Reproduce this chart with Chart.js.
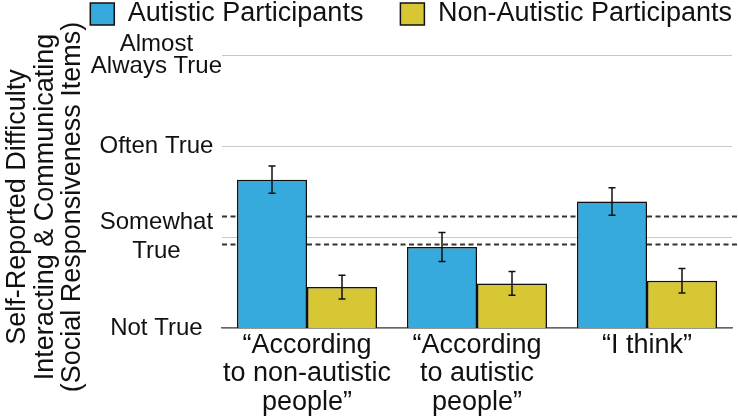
<!DOCTYPE html>
<html>
<head>
<meta charset="utf-8">
<title>Self-Reported Difficulty</title>
<script src="https://cdn.jsdelivr.net/npm/chart.js@4.4.1/dist/chart.umd.min.js"></script>
<style>
    html, body { margin: 0; padding: 0; background: #fff; }
    #wrap { width: 738px; height: 416px; }
</style>
</head>
<body>
<div id="wrap"><canvas id="srsChart" width="738" height="416"></canvas></div>
<script>
// ==========================
// Data
// ==========================
const categories = [
    ["\u201CAccording", "to non-autistic", "people\u201D"],
    ["\u201CAccording", "to autistic", "people\u201D"],
    "\u201CI think\u201D"
];
const seriesNames = ["Autistic Participants", "Non-Autistic Participants"];
const autisticMeans = [2.63, 1.89, 2.39];
const autisticErr = [0.15, 0.16, 0.15];
const nonAutisticMeans = [1.45, 1.49, 1.52];
const nonAutisticErr = [0.13, 0.13, 0.135];
const cutoffLines = [2.23, 1.92];
const yTickValues = [1, 2, 3, 4];
const yTickLabels = ["Not True", ["Somewhat", "True"], "Often True", ["Almost", "Always True"]];
const yTitleLines = ["Self-Reported Difficulty", "Interacting & Communicating", "(Social Responsiveness Items)"];

const FONT = '"Liberation Sans", Arial, Helvetica, sans-serif';
const BLUE = "#36a9dd";
const YELLOW = "#d8c734";
const errors = [autisticErr, nonAutisticErr];

// legend spacing: wide gap between the two entries, so the legend
// box runs a little past the right edge and a blank right axis
// takes that room back from the plot
const LEGEND_PAD = 37;
const RIGHT_PAD = -31;

// ==========================
// Helper plugins
// ==========================

// legend gets a fixed height so the plot starts under it
const legendSpace = {
    id: "legendSpace",
    beforeLayout(chart) {
        const lg = chart.legend;
        if (lg && !lg._patched) {
            const fit = lg.fit;
            lg.fit = function () {
                fit.call(this);
                this.height = 54.5 + LEGEND_PAD;
            };
            lg._patched = true;
        }
    }
};

// dashed cut-off lines behind the bars + soft bar shadow
const cutoffsAndShadow = {
    id: "cutoffsAndShadow",
    beforeDatasetsDraw(chart) {
        const { ctx, chartArea, scales } = chart;
        ctx.save();
        ctx.strokeStyle = "#333";
        ctx.lineWidth = 2;
        ctx.setLineDash([5, 3.5]);
        cutoffLines.forEach(v => {
            const y = Math.round(scales.y.getPixelForValue(v)) + 0.5;
            ctx.beginPath();
            ctx.moveTo(chartArea.left, y);
            ctx.lineTo(chart.width, y);
            ctx.stroke();
        });
        ctx.restore();

        ctx.save();
        ctx.shadowColor = "rgba(0,0,0,0.35)";
        ctx.shadowBlur = 2;
        ctx.shadowOffsetX = 1.5;
        ctx.shadowOffsetY = 1;
    },
    afterDatasetsDraw(chart) {
        const { ctx, scales } = chart;
        ctx.restore();

        // error bars
        ctx.save();
        ctx.strokeStyle = "#111";
        ctx.lineWidth = 1.5;
        chart.data.datasets.forEach((ds, i) => {
            const meta = chart.getDatasetMeta(i);
            meta.data.forEach((bar, j) => {
                const top = scales.y.getPixelForValue(ds.data[j] + errors[i][j]);
                const bot = scales.y.getPixelForValue(ds.data[j] - errors[i][j]);
                const x = bar.x;
                ctx.beginPath();
                ctx.moveTo(x, top); ctx.lineTo(x, bot);
                ctx.moveTo(x - 3.5, top); ctx.lineTo(x + 3.5, top);
                ctx.moveTo(x - 3.5, bot); ctx.lineTo(x + 3.5, bot);
                ctx.stroke();
            });
        });
        ctx.restore();
    }
};

// three-line rotated y title, centred on the canvas height
const yTitle = {
    id: "yTitle",
    afterDraw(chart) {
        const ctx = chart.ctx;
        ctx.save();
        ctx.font = "27px " + FONT;
        ctx.fillStyle = "#111";
        ctx.textAlign = "center";
        ctx.textBaseline = "alphabetic";
        yTitleLines.forEach((line, i) => {
            ctx.save();
            ctx.translate(25 + i * 27.5, 207);
            ctx.rotate(-Math.PI / 2);
            ctx.fillText(line, 0, 0);
            ctx.restore();
        });
        ctx.restore();
    }
};

// ==========================
// Chart
// ==========================
const ctx = document.getElementById("srsChart").getContext("2d");

new Chart(ctx, {
    type: "bar",
    data: {
        labels: categories,
        datasets: [
            {
                label: seriesNames[0],
                data: autisticMeans,
                backgroundColor: BLUE,
                borderColor: "#111",
                borderWidth: 1.5,
                borderSkipped: false
            },
            {
                label: seriesNames[1],
                data: nonAutisticMeans,
                backgroundColor: YELLOW,
                borderColor: "#111",
                borderWidth: 1.5,
                borderSkipped: false
            }
        ]
    },
    options: {
        responsive: false,
        animation: false,
        devicePixelRatio: 1,
        categoryPercentage: 0.8235,
        barPercentage: 1,
        layout: { padding: { top: -LEGEND_PAD + 0.5, left: 0, right: RIGHT_PAD, bottom: 0 } },
        plugins: {
            legend: {
                position: "top",
                align: "end",
                labels: {
                    color: "#111",
                    font: { family: FONT, size: 27 },
                    boxWidth: 24,
                    boxHeight: 22,
                    padding: LEGEND_PAD
                }
            },
            tooltip: { enabled: false }
        },
        scales: {
            x: {
                grid: { display: false, drawTicks: false },
                border: { display: true, color: "#666", width: 1.5 },
                ticks: {
                    color: "#111",
                    padding: 3,
                    maxRotation: 0,
                    autoSkip: false,
                    font: { family: FONT, size: 27, lineHeight: 1.06 }
                },
                afterFit(scale) { scale.height = 88; }
            },
            y: {
                min: 1,
                max: 4,
                grid: { color: "#c8c8c8", lineWidth: 1, drawTicks: false },
                border: { display: false },
                ticks: {
                    stepSize: 1,
                    padding: 0,
                    crossAlign: "center",
                    color: "#111",
                    font: (c) => ({
                        family: FONT,
                        size: 24,
                        lineHeight: (c.tick && c.tick.value === 4) ? 0.92 : 1.2
                    }),
                    callback: (v) => {
                        const i = yTickValues.indexOf(v);
                        return i >= 0 ? yTickLabels[i] : "";
                    }
                },
                afterFit(scale) { scale.width = 222; }
            },
            yRight: {
                position: "right",
                display: true,
                grid: { display: false, drawTicks: false },
                border: { display: false },
                ticks: { display: false },
                afterFit(scale) { scale.width = 6 - RIGHT_PAD; }
            }
        }
    },
    plugins: [legendSpace, cutoffsAndShadow, yTitle]
});
</script>
</body>
</html>
